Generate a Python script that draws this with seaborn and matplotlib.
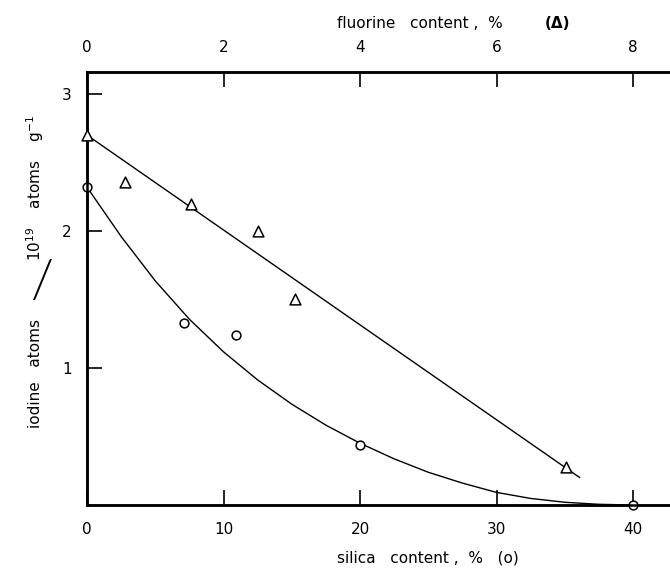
import numpy as np
import pandas as pd
import matplotlib
matplotlib.use("Agg")
import matplotlib.pyplot as plt
import seaborn as sns

# ---- data ----
silica_pts = [0.0, 7.1, 10.9, 20.0, 40.0]          # silica content, % (o)
iodine_si_pts = [2.32, 1.33, 1.24, 0.44, 0.0]

fluorine_pts = [0.0, 0.55, 1.52, 2.51, 3.05, 7.02]  # fluorine content, % (triangles)
iodine_f_pts = [2.70, 2.36, 2.20, 2.00, 1.50, 0.28]

# drawn curve through the silica points
silica_curve_x = [0, 2.5, 5, 7.5, 10, 12.5, 15, 17.5, 20, 22.5, 25, 27.5, 30,
                  32.5, 35, 37.5, 40]
silica_curve_y = [2.32, 1.96, 1.636, 1.356, 1.118, 0.913, 0.736, 0.583, 0.451, 0.337,
                  0.239, 0.160, 0.092, 0.048, 0.020, 0.005, 0.0]

# drawn straight line through the fluorine points
fluorine_line_x = [0.0, 7.22]
fluorine_line_y = [2.70, 0.20]

silica_ticks = [0, 10, 20, 30, 40]
fluorine_ticks = [0, 2, 4, 6, 8]
y_ticks = [1, 2, 3]

sns.set_style("ticks")
plt.rcParams['font.family'] = ['DejaVu Sans']
for k in ('text.color', 'axes.labelcolor', 'xtick.color', 'ytick.color', 'axes.edgecolor'):
    plt.rcParams[k] = 'black'

W, H = 670, 570
fig = plt.figure(figsize=(W / 100, H / 100), dpi=100)
left, right, bottom, top = 87, 670, 505, 72
ax = fig.add_axes([left / W, (H - bottom) / H, (right - left) / W, (bottom - top) / H])
px_per_si = 13.65
xmax_si = (right - left) / px_per_si
ymax = (bottom - top) / 137.0

df_si_curve = pd.DataFrame({"x": silica_curve_x, "y": silica_curve_y})
df_si = pd.DataFrame({"x": silica_pts, "y": iodine_si_pts})
sns.lineplot(data=df_si_curve, x="x", y="y", ax=ax, color="black", lw=1.0, sort=False,
             estimator=None)
sns.scatterplot(data=df_si, x="x", y="y", ax=ax, marker="o", s=40, color="white",
                edgecolor="black", linewidth=1.1, zorder=5, clip_on=False)
ax.set_xlim(0, xmax_si)
ax.set_ylim(0, ymax)

ax2 = ax.twiny()
df_f_line = pd.DataFrame({"x": fluorine_line_x, "y": fluorine_line_y})
df_f = pd.DataFrame({"x": fluorine_pts, "y": iodine_f_pts})
sns.lineplot(data=df_f_line, x="x", y="y", ax=ax2, color="black", lw=1.0, sort=False,
             estimator=None)
sns.scatterplot(data=df_f, x="x", y="y", ax=ax2, marker="^", s=60, color="white",
                edgecolor="black", linewidth=1.1, zorder=5, clip_on=False)
ax2.set_xlim(0, xmax_si / 5.0)
ax2.set_ylim(0, ymax)

for a in (ax, ax2):
    a.set_xlabel("")
    a.set_ylabel("")
    for s in a.spines.values():
        s.set_linewidth(1.8)
        s.set_color('black')
    a.spines['right'].set_visible(False)

ax.set_xticks(silica_ticks)
ax.set_xticklabels([str(t) for t in silica_ticks])
ax.set_yticks(y_ticks)
ax.set_yticklabels([str(t) for t in y_ticks])
ax2.set_xticks(fluorine_ticks)
ax2.set_xticklabels([str(t) for t in fluorine_ticks])

ax.tick_params(axis='x', direction='in', length=11, width=1.2, labelsize=11, pad=12)
ax.tick_params(axis='y', direction='in', length=11, width=1.2, labelsize=11, pad=11)
ax2.tick_params(axis='x', direction='in', length=11, width=1.2, labelsize=11, pad=12,
                top=True, labeltop=True, bottom=False, labelbottom=False)
ax2.tick_params(axis='y', left=False, right=False, labelleft=False, labelright=False)

def fx(p):
    return p / W

def fy(p):
    return (H - p) / H

fig.text(fx(428), fy(558), "silica   content ,  %   (o)", ha='center', va='center', fontsize=11)
fig.text(fx(420), fy(24), "fluorine   content ,  %", ha='center', va='center', fontsize=11)
fig.text(fx(558), fy(24), "(Δ)", ha='center', va='center', fontsize=11, fontweight='bold')

fig.text(fx(35), fy(374), "iodine   atoms", rotation=90, ha='center', va='center', fontsize=11)
fig.text(fx(42), fy(283), "/", ha='center', va='center', fontsize=38,
         family=['Lato', 'DejaVu Sans'], fontweight=300)
fig.text(fx(35), fy(188), r"10$^{19}$    atoms    g$^{-1}$", rotation=90, ha='center',
         va='center', fontsize=11)

fig.savefig("out.png", dpi=100)
